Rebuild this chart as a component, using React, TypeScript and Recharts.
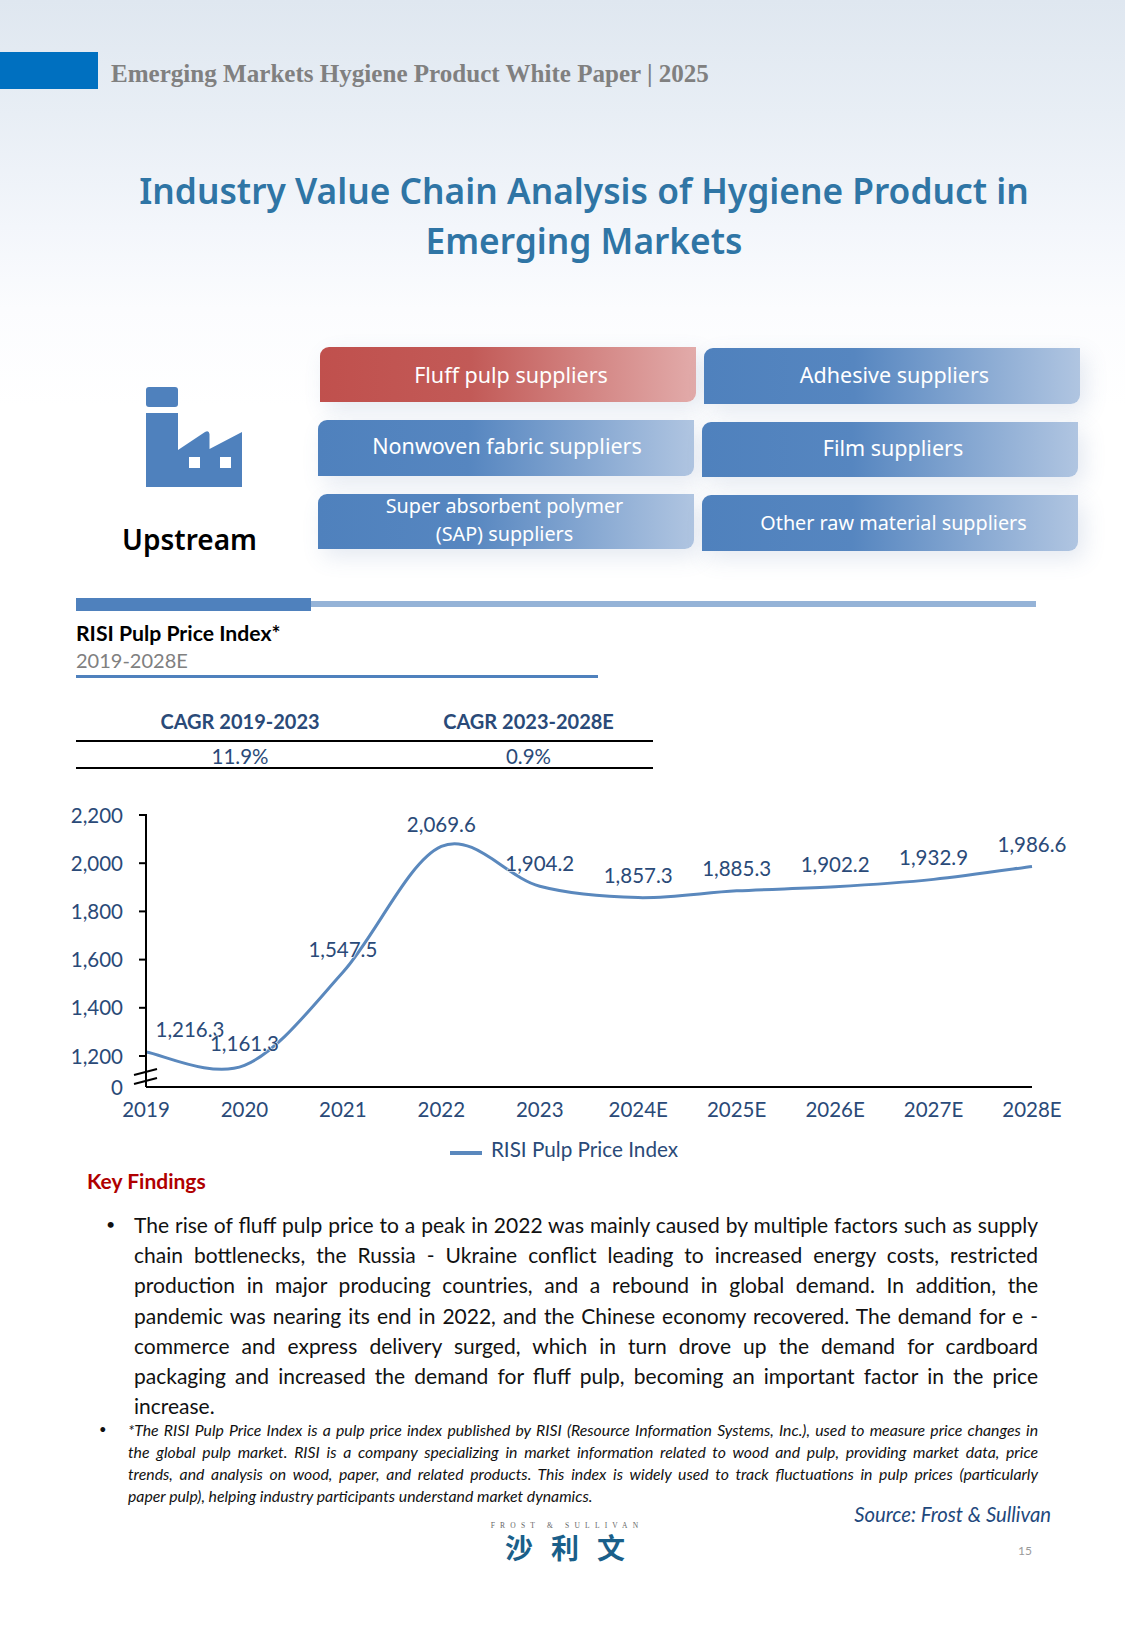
import React from "react";
import { LineChart, Line, XAxis, YAxis, Legend, LabelList } from "recharts";

const years = ["2019", "2020", "2021", "2022", "2023", "2024E", "2025E", "2026E", "2027E", "2028E"];
const priceIndex = [1216.3, 1161.3, 1547.5, 2069.6, 1904.2, 1857.3, 1885.3, 1902.2, 1932.9, 1986.6];
const axisBreakFloor = 1071.4; // the axis is broken: this bottom value is labelled 0
const yTicks = [axisBreakFloor, 1200, 1400, 1600, 1800, 2000, 2200];
const seriesName = "RISI Pulp Price Index";
const chartData = years.map((year, i) => ({ year, value: priceIndex[i] }));

const bodyLines = [
  "The rise of fluff pulp price to a peak in 2022 was mainly caused by multiple factors such as supply",
  "chain bottlenecks, the Russia - Ukraine conflict leading to increased energy costs, restricted",
  "production in major producing countries, and a rebound in global demand. In addition, the",
  "pandemic was nearing its end in 2022, and the Chinese economy recovered. The demand for e -",
  "commerce and express delivery surged, which in turn drove up the demand for cardboard",
  "packaging and increased the demand for fluff pulp, becoming an important factor in the price",
  "increase.",
];
const noteLines = [
  "*The RISI Pulp Price Index is a pulp price index published by RISI (Resource Information Systems, Inc.), used to measure price changes in",
  "the global pulp market. RISI is a company specializing in market information related to wood and pulp, providing market data, price",
  "trends, and analysis on wood, paper, and related products. This index is widely used to track fluctuations in pulp prices (particularly",
  "paper pulp), helping industry participants understand market dynamics.",
];
const supplierNames = [
  ["Fluff pulp suppliers"],
  ["Adhesive suppliers"],
  ["Nonwoven fabric suppliers"],
  ["Film suppliers"],
  ["Super absorbent polymer", "(SAP) suppliers"],
  ["Other raw material suppliers"],
];
const boxLayout = [
  { x: 320, y: 347, w: 376, h: 55, red: true, dx: 3, dy: 0, fs: 21.5 },
  { x: 704, y: 348, w: 376, h: 56, dx: 2.5, dy: -1, fs: 21.5 },
  { x: 318, y: 420, w: 376, h: 56, dx: 1, dy: -2, fs: 21.5 },
  { x: 702, y: 422, w: 376, h: 55, dx: 3, dy: -2, fs: 21.5 },
  { x: 318, y: 494, w: 376, h: 55, dx: -1.5, dy: -2, fs: 19.8 },
  { x: 702, y: 495, w: 376, h: 56, dx: 3.5, dy: 0, fs: 19.8 },
];

const BODY = "Lato, sans-serif";
const NOTO = "'Noto Sans', sans-serif";
const NAVY = "#2a4a78";
const BLUE = "#4f81bd";
const LINE_BLUE = "#5a88bd";

// Smooth line as drawn by the spreadsheet: Catmull-Rom through every point.
const smoothCurve = (ctx: any) => {
  let pts: number[][] = [];
  return {
    areaStart() {},
    areaEnd() {},
    lineStart() { pts = []; },
    point(x: number, y: number) { pts.push([+x, +y]); },
    lineEnd() {
      pts.forEach((p, i) => {
        if (i === 0) { ctx.moveTo(p[0], p[1]); return; }
        const p0 = pts[i - 2] || pts[i - 1];
        const p1 = pts[i - 1];
        const p3 = pts[i + 1] || p;
        ctx.bezierCurveTo(
          p1[0] + (p[0] - p0[0]) / 6, p1[1] + (p[1] - p0[1]) / 6,
          p[0] - (p3[0] - p1[0]) / 6, p[1] - (p3[1] - p1[1]) / 6,
          p[0], p[1]
        );
      });
    },
  };
};

const fmt = (v: number) => v.toLocaleString("en-US", { minimumFractionDigits: 1, maximumFractionDigits: 1 });

const YTick = (props: any) => {
  const { x, y, payload } = props;
  const isFloor = payload.value === axisBreakFloor;
  return (
    <g>
      {!isFloor && <line x1={x + 1} x2={x + 9} y1={y} y2={y} stroke="#000" strokeWidth={2} />}
      <text x={x - 15} y={y + 0.4} dy="0.35em" textAnchor="end" fontFamily={BODY} fontSize={20.5} fill={NAVY}>
        {isFloor ? "0" : payload.value.toLocaleString("en-US")}
      </text>
    </g>
  );
};

const PointLabel = (props: any) => {
  const { x, y, value, index } = props;
  return (
    <text
      x={index === 0 ? x + 44 : x}
      y={y - 22}
      dy="0.35em"
      textAnchor="middle"
      fontFamily={BODY}
      fontSize={20.5}
      fill={NAVY}
      stroke="rgba(255,255,255,0.75)"
      strokeWidth={1.5}
      paintOrder="stroke"
    >
      {fmt(value)}
    </text>
  );
};

const T = ({ x, y, children, style, center, right }: any) => (
  <div
    style={{
      position: "absolute",
      left: center || right ? undefined : x,
      top: y,
      ...(center ? { left: x, transform: "translate(-50%, -50%)", textAlign: "center" } : { transform: "translateY(-50%)" }),
      ...(right ? { right: 1125 - x, textAlign: "right" } : {}),
      whiteSpace: "nowrap",
      fontFamily: BODY,
      lineHeight: 1.1,
      ...style,
    }}
  >
    {children}
  </div>
);

const Justified = ({ x, y, width, last, children, style }: any) => (
  <div
    style={{
      position: "absolute",
      left: x,
      top: y,
      width: last ? "auto" : width,
      transform: "translateY(-50%)",
      fontFamily: BODY,
      lineHeight: 1.1,
      whiteSpace: last ? "nowrap" : "normal",
      textAlign: last ? "left" : "justify",
      textAlignLast: last ? "left" : "justify",
      ...style,
    }}
  >
    {children}
  </div>
);

const Box = ({ lines, x, y, w, h, red, dx, dy, fs }: any) => (
  <div
    style={{
      position: "absolute",
      left: x,
      top: y,
      width: w,
      height: h,
      borderRadius: "9px 0 9px 0",
      background: red
        ? "linear-gradient(90deg, #c0504d 0%, #c25a57 40%, #e2abaa 100%)"
        : "linear-gradient(90deg, #4f81bd 0%, #5686c0 40%, #b0c5e1 100%)",
      boxShadow: "6px 8px 22px rgba(90,120,170,0.16)",
      color: "#fff",
      display: "flex",
      flexDirection: "column",
      alignItems: "center",
      justifyContent: "center",
      fontFamily: NOTO,
      fontSize: fs,
      lineHeight: "28px",
    }}
  >
    <div style={{ transform: `translate(${dx}px, ${dy}px)`, textAlign: "center" }}>
      {lines.map((l: string) => (
        <div key={l}>{l}</div>
      ))}
    </div>
  </div>
);

export default function App() {
  return (
    <div
      style={{
        position: "absolute",
        left: 0,
        top: 0,
        width: 1125,
        height: 1625,
        overflow: "hidden",
        background: "linear-gradient(180deg, #dfe7f0 0%, #e8eef5 7%, #f3f6fb 14%, #fbfcfe 19%, #ffffff 25%)",
      }}
    >
      <div style={{ position: "absolute", left: 0, top: 52, width: 98, height: 37, background: "#0070c0" }} />
      <T x={111} y={74} style={{ fontFamily: "'Liberation Serif', serif", fontWeight: 700, fontSize: 25.07, color: "#808080" }}>
        Emerging Markets Hygiene Product White Paper | 2025
      </T>
      <T x={584} y={190} center style={{ fontFamily: NOTO, fontWeight: 600, fontSize: 35.3, color: "#2f75a5" }}>
        Industry Value Chain Analysis of Hygiene Product in
      </T>
      <T x={584} y={240} center style={{ fontFamily: NOTO, fontWeight: 600, fontSize: 35.3, color: "#2f75a5" }}>
        Emerging Markets
      </T>

      <svg style={{ position: "absolute", left: 0, top: 0 }} width={1125} height={600}>
        <rect x={146} y={387} width={32} height={20} rx={3} fill={BLUE} />
        <path d="M146 413H178V450L205 432Q209 430 209.5 434V449L242 432V487H146Z" fill={BLUE} />
        <rect x={189} y={457} width={11} height={11} fill="#fff" />
        <rect x={220} y={457} width={11} height={11} fill="#fff" />
      </svg>
      <T x={189.5} y={539} center style={{ fontFamily: NOTO, fontWeight: 600, fontSize: 28, color: "#000" }}>
        Upstream
      </T>
      {supplierNames.map((lines, i) => (
        <Box key={lines[0]} lines={lines} {...boxLayout[i]} />
      ))}

      <div style={{ position: "absolute", left: 311, top: 601, width: 725, height: 6, background: "#95b3d7" }} />
      <div style={{ position: "absolute", left: 76, top: 598, width: 235, height: 13, background: BLUE }} />
      <T x={76} y={634} style={{ fontWeight: 700, fontSize: 21.2, color: "#000" }}>RISI Pulp Price Index*</T>
      <T x={76} y={660} style={{ fontSize: 20, color: "#808080" }}>2019-2028E</T>
      <div style={{ position: "absolute", left: 76, top: 674.5, width: 522, height: 3, background: BLUE }} />

      <T x={240} y={721} center style={{ fontWeight: 700, fontSize: 20, color: NAVY }}>CAGR 2019-2023</T>
      <T x={528.5} y={721} center style={{ fontWeight: 700, fontSize: 20, color: NAVY }}>CAGR 2023-2028E</T>
      <div style={{ position: "absolute", left: 76, top: 740, width: 577, height: 2, background: "#000" }} />
      <T x={240} y={756} center style={{ fontSize: 20.5, color: NAVY }}>11.9%</T>
      <T x={528.5} y={756} center style={{ fontSize: 20.5, color: NAVY }}>0.9%</T>
      <div style={{ position: "absolute", left: 76, top: 767, width: 577, height: 2, background: "#000" }} />

      <div style={{ position: "absolute", left: 0, top: 790 }}>
        <LineChart
          width={1125}
          height={398}
          data={chartData}
          margin={{ top: 25, right: 93, bottom: 10, left: 86 }}
        >
          <XAxis
            dataKey="year"
            interval={0}
            tickLine={false}
            axisLine={{ stroke: "#000", strokeWidth: 2 }}
            tick={{ fill: NAVY, fontFamily: BODY, fontSize: 20.5 }}
            tickMargin={9}
            height={50}
          />
          <YAxis
            width={60}
            domain={[axisBreakFloor, 2200]}
            ticks={yTicks}
            interval={0}
            allowDataOverflow
            axisLine={{ stroke: "#000", strokeWidth: 2 }}
            tickLine={false}
            tick={<YTick />}
          />
          <Line
            dataKey="value"
            name={seriesName}
            type={smoothCurve as any}
            stroke={LINE_BLUE}
            strokeWidth={3}
            dot={false}
            isAnimationActive={false}
          >
            <LabelList dataKey="value" content={<PointLabel />} />
          </Line>
          <Legend
            verticalAlign="bottom"
            height={41}
            iconType="plainline"
            iconSize={32}
            wrapperStyle={{ paddingLeft: 20, boxSizing: "border-box" }}
            formatter={(v: string) => (
              <span style={{ color: NAVY, fontFamily: BODY, fontSize: 20.7, marginLeft: 5 }}>{v}</span>
            )}
          />
        </LineChart>
      </div>
      <svg style={{ position: "absolute", left: 0, top: 0, pointerEvents: "none" }} width={300} height={1100}>
        <line x1={134} y1={1075} x2={157} y2={1069} stroke="#000" strokeWidth={2} />
        <line x1={134} y1={1084} x2={157} y2={1078} stroke="#000" strokeWidth={2} />
      </svg>

      <T x={87} y={1181} style={{ fontWeight: 700, fontSize: 21, color: "#b00000" }}>Key Findings</T>
      <T x={106} y={1224} style={{ fontSize: 16, color: "#111" }}>•</T>
      {bodyLines.map((l, i) => (
        <Justified key={i} x={134} y={1225 + i * 30.2} width={904} last={i === bodyLines.length - 1} style={{ fontSize: 21, color: "#111" }}>
          {l}
        </Justified>
      ))}
      <T x={99} y={1429} style={{ fontSize: 13, color: "#111" }}>•</T>
      {noteLines.map((l, i) => (
        <Justified key={i} x={128} y={1430 + i * 22} width={910} last={i === noteLines.length - 1} style={{ fontStyle: "italic", fontSize: 15.8, color: "#111" }}>
          {l}
        </Justified>
      ))}
      <T x={1051} y={1514} right style={{ fontStyle: "italic", fontSize: 20.3, color: "#1f497d" }}>Source: Frost &amp; Sullivan</T>
      <T x={567} y={1526} center style={{ fontFamily: "'Liberation Serif', serif", fontSize: 7.5, letterSpacing: 5.2, color: "#666", lineHeight: 1 }}>FROST &amp; SULLIVAN</T>
      <T x={565} y={1547} center style={{ fontFamily: "'Noto Sans CJK SC', sans-serif", fontWeight: 700, fontSize: 28, letterSpacing: 18, color: "#1a5f8a", paddingLeft: 18, lineHeight: 1 }}>沙利文</T>
      <T x={1025} y={1551} center style={{ fontSize: 12, color: "#9a9a9a" }}>15</T>
    </div>
  );
}
